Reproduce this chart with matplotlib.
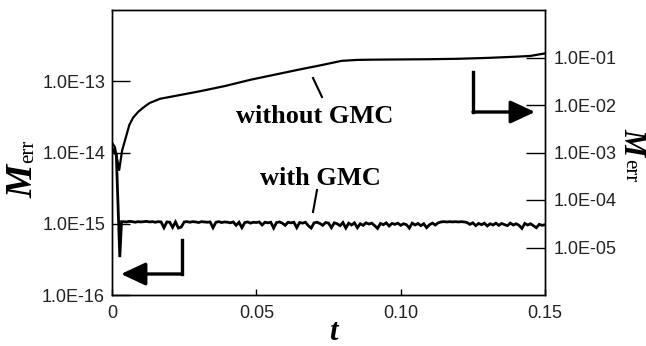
import numpy as np
import matplotlib
matplotlib.use("Agg")
import matplotlib.pyplot as plt
from matplotlib.ticker import FixedLocator, NullLocator

# ---- data ----
# without GMC (right axis)
nogmc_t = [0.0, 0.001, 0.0025, 0.0035, 0.0045, 0.006, 0.0073, 0.009, 0.0107, 0.013,
           0.0166, 0.0235, 0.0305, 0.039, 0.048, 0.056, 0.065, 0.0725, 0.0795, 0.085,
           0.09, 0.1, 0.11, 0.12, 0.13, 0.14, 0.145, 0.15]
nogmc_v = [1.6e-3, 1.3e-3, 4.3e-4, 1.1e-3, 1.8e-3, 3.8e-3, 5.4e-3, 7.1e-3, 8.7e-3, 1.1e-2,
           1.35e-2, 1.62e-2, 1.95e-2, 2.5e-2, 3.4e-2, 4.3e-2, 5.6e-2, 6.9e-2, 8.5e-2, 8.9e-2,
           9.0e-2, 9.1e-2, 9.2e-2, 9.4e-2, 9.8e-2, 1.04e-1, 1.08e-1, 1.22e-1]

# with GMC (left axis): initial transient then noisy plateau
gmc_head_t = [0.0, 0.0015, 0.0027, 0.0033]
gmc_head_v = [1.15e-14, 0.92e-14, 3.4e-16, 1.07e-15]
gmc_noise_t0, gmc_noise_t1 = 0.004, 0.150
gmc_noise_v = [1.07, 1.06, 1.08, 1.07, 1.05, 1.07, 1.06, 1.07, 1.08, 1.06,
               1.07, 1.05, 1.07, 1.06, 0.88, 1.06, 1.05, 0.89, 1.06, 0.87,
               0.90, 1.06, 1.07, 1.05, 1.07, 1.06, 1.04, 1.07, 1.06, 1.05,
               1.06, 0.88, 1.05, 1.07, 1.04, 1.06, 1.05, 1.03, 1.06, 0.95,
               1.05, 0.88, 1.04, 1.06, 1.02, 1.05, 1.04, 1.06, 0.96, 1.05,
               1.03, 1.05, 0.87, 1.04, 1.06, 1.02, 0.95, 1.05, 1.03, 1.05,
               0.88, 1.04, 1.02, 1.05, 0.94, 0.87, 1.03, 1.05, 1.01, 0.95,
               1.04, 1.02, 0.88, 1.03, 1.00, 0.94, 1.04, 0.87, 1.02, 0.96,
               1.03, 0.88, 1.00, 0.95, 1.03, 0.99, 1.02, 0.94, 0.86, 1.01,
               0.97, 1.03, 0.93, 1.01, 0.98, 1.02, 0.95, 1.00, 0.97, 0.87,
               1.02, 0.96, 1.01, 0.94, 1.00, 0.88, 0.97, 1.02, 0.96, 1.03,
               1.06, 1.07, 1.06, 1.07, 1.06, 1.07, 1.06, 1.07, 1.06, 1.04,
               0.98, 1.03, 0.94, 1.01, 0.97, 1.02, 0.93, 1.00, 0.96, 1.02,
               0.95, 1.01, 0.97, 0.94, 1.02, 0.96, 1.00, 0.95, 0.86, 1.01,
               0.96, 1.00, 0.94, 0.88, 0.98, 0.95, 0.97]
gmc_noise_scale = 1e-15

x_ticks = [0, 0.05, 0.10, 0.15]
x_ticklabels = ["0", "0.05", "0.10", "0.15"]
left_ticks = [1e-16, 1e-15, 1e-14, 1e-13]
left_ticklabels = ["1.0E-16", "1.0E-15", "1.0E-14", "1.0E-13"]
right_ticks = [1e-5, 1e-4, 1e-3, 1e-2, 1e-1]
right_ticklabels = ["1.0E-05", "1.0E-04", "1.0E-03", "1.0E-02", "1.0E-01"]

# ---- figure ----
W, H = 646, 346
fig = plt.figure(figsize=(W / 100, H / 100), dpi=100)
L, R, T, B = 112, 545, 10, 295
ax = fig.add_axes([L / W, 1 - B / H, (R - L) / W, (B - T) / H])
ax2 = ax.twinx()

sans = "Liberation Sans"
serif = "Liberation Serif"

gmc_t = list(gmc_head_t) + list(np.linspace(gmc_noise_t0, gmc_noise_t1, len(gmc_noise_v)))
gmc_v = list(gmc_head_v) + [v * gmc_noise_scale for v in gmc_noise_v]

ax.plot(gmc_t, gmc_v, color="black", lw=2.0, solid_joinstyle="miter")
ax2.plot(nogmc_t, nogmc_v, color="black", lw=1.6)

ax.set_xlim(0, 0.15)
ax.set_yscale("log")
ax.set_ylim(1e-16, 1e-12)
ax2.set_yscale("log")
ax2.set_ylim(1e-6, 1e0)

ax.xaxis.set_major_locator(FixedLocator(x_ticks))
ax.set_xticklabels(x_ticklabels)
ax.yaxis.set_major_locator(FixedLocator(left_ticks))
ax.yaxis.set_minor_locator(NullLocator())
ax.set_yticklabels(left_ticklabels)
ax2.yaxis.set_major_locator(FixedLocator(right_ticks))
ax2.yaxis.set_minor_locator(NullLocator())
ax2.set_yticklabels(right_ticklabels)

ax.tick_params(axis="x", direction="in", length=4, width=1, pad=7, labelsize=13)
ax.tick_params(axis="y", direction="in", length=13, width=1, pad=5, labelsize=13)
ax2.tick_params(axis="y", direction="in", length=14, width=1, pad=6, labelsize=13)
for a in (ax, ax2):
    for lab in a.get_xticklabels() + a.get_yticklabels():
        lab.set_fontfamily(sans)
        lab.set_color("#222222")
    for s in a.spines.values():
        s.set_linewidth(1.0)

# ---- axis labels ----
def px(x, y):
    return x / W, 1 - y / H

bi = dict(family=serif, weight="bold", style="italic")
fig.text(*px(33, 181), "M", fontsize=27, rotation=90, rotation_mode="anchor",
         ha="center", va="baseline", **bi)
fig.text(*px(33, 151), "err", fontsize=15, rotation=90, rotation_mode="anchor",
         ha="center", va="baseline", family=serif)
fig.text(*px(624, 142), "M", fontsize=22, rotation=-90, rotation_mode="anchor",
         ha="center", va="baseline", **bi)
fig.text(*px(625, 171), "err", fontsize=15, rotation=-90, rotation_mode="anchor",
         ha="center", va="baseline", family=serif)
fig.text(*px(333, 340), "t", fontsize=22, ha="center", va="baseline", **bi)

# ---- annotations ----
def af(x, y):
    return (x - L) / (R - L), (B - y) / (B - T)

ax.text(*af(315, 123), "without GMC", transform=ax.transAxes, fontsize=19,
        ha="center", va="baseline", family=serif, weight="bold")
ax.text(*af(320, 185), "with GMC", transform=ax.transAxes, fontsize=19,
        ha="center", va="baseline", family=serif, weight="bold")

def seg(p, q, lw=1.5):
    a, b = af(*p), af(*q)
    ax.plot([a[0], b[0]], [a[1], b[1]], transform=ax.transAxes, color="black",
            lw=lw, clip_on=False)

seg((313, 78), (322, 97))
seg((317, 190), (313, 212))

# arrows
def arrow(corner_top, corner, tip):
    seg(corner_top, corner, lw=2.4)
    ax.annotate("", xy=af(*tip), xytext=af(*corner), xycoords="axes fraction",
                textcoords="axes fraction",
                arrowprops=dict(arrowstyle="-|>,head_length=0.75,head_width=0.35",
                                lw=2.4, color="black", mutation_scale=20,
                                shrinkA=0, shrinkB=0))

arrow((182, 240), (182, 274), (121, 274))
arrow((473, 72), (473, 112), (535, 112))

fig.savefig("out.png", dpi=100)
